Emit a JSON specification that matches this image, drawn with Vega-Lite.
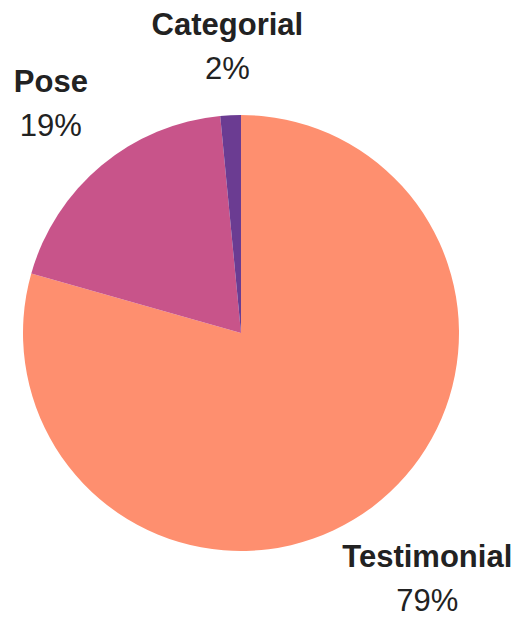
{
  "$schema": "https://vega.github.io/schema/vega-lite/v6.json",
  "width": 482,
  "height": 576,
  "autosize": {"type": "none"},
  "padding": {"left": 0, "top": 45, "right": 37, "bottom": 0},
  "background": "white",
  "data": {
    "values": [
      {"category": "Testimonial", "share": 0.794},
      {"category": "Pose", "share": 0.1908},
      {"category": "Categorial", "share": 0.0152}
    ]
  },
  "encoding": {
    "theta": {"field": "share", "type": "quantitative", "stack": true},
    "order": {"field": "category", "sort": "descending"}
  },
  "layer": [
    {
      "mark": {"type": "arc", "outerRadius": 218, "strokeWidth": 0},
      "encoding": {
        "color": {
          "field": "category",
          "type": "nominal",
          "scale": {"domain": ["Testimonial", "Pose", "Categorial"], "range": ["#FE8F6F", "#C8548A", "#6B3C92"]},
          "legend": null
        }
      }
    },
    {
      "mark": {
        "type": "text",
        "radius": {"expr": "datum.category == 'Categorial' ? 285 : datum.category == 'Pose' ? 297 : 309"},
        "dy": -22,
        "fontSize": 31,
        "fontWeight": "bold",
        "font": "Liberation Sans",
        "fill": "#222222",
        "align": "center",
        "baseline": "middle"
      },
      "encoding": {"text": {"field": "category", "type": "nominal"}}
    },
    {
      "mark": {
        "type": "text",
        "radius": {"expr": "datum.category == 'Categorial' ? 285 : datum.category == 'Pose' ? 297 : 309"},
        "dy": 22,
        "fontSize": 31,
        "font": "Liberation Sans",
        "fill": "#222222",
        "align": "center",
        "baseline": "middle"
      },
      "encoding": {"text": {"field": "share", "type": "quantitative", "format": ".0%"}}
    }
  ],
  "config": {"view": {"stroke": null}}
}
